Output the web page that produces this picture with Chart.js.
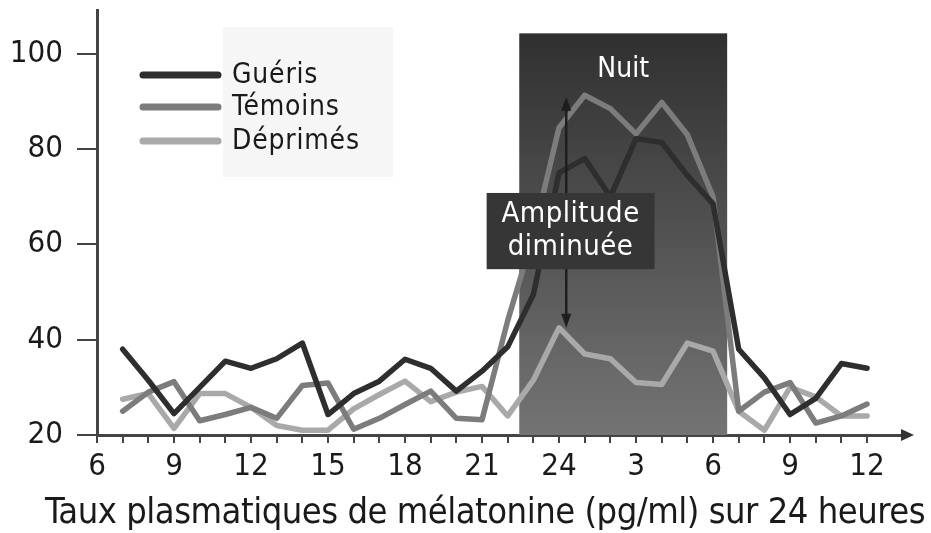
<!DOCTYPE html>
<html><head><meta charset="utf-8">
<script src="https://cdn.jsdelivr.net/npm/chart.js@4/dist/chart.umd.min.js"></script>
<style>html,body{margin:0;padding:0;background:#fff;}canvas{display:block;}</style>
</head><body>
<canvas id="c" width="931" height="533"></canvas>
<script>
// ---- data (hours of the day, 7h -> 12h the next day) ----
const hours    = [7,8,9,10,11,12,13,14,15,16,17,18,19,20,21,22,23,24,25,26,27,28,29,30,31,32,33,34,35,36];
const gueris   = [38,31.5,24.5,30,35.5,34,36,39.3,24.3,28.7,31.3,35.9,34,29.2,33.4,38.5,49.5,75,78,70,82.2,81.4,74.5,68.5,38,32,24.3,27.7,35,34];
const temoins  = [25,29,31.2,23,24.3,25.8,23.5,30.4,30.9,21.2,23.5,26.4,29.2,23.5,23.2,44,62,84.5,91.3,88.5,83.2,89.8,83,70,25,29,31,22.5,24,26.5];
const deprimes = [27.5,28.7,21.4,28.7,28.7,25.8,22,21,21,25.5,28.5,31.3,27,29,30.2,24,31.5,42.5,37,36,31,30.6,39.3,37.6,25,21,30,28,24,24];
const seriesNames = ['Guéris','Témoins','Déprimés'];
const xTickHours = [6,7,8,9,10,11,12,13,14,15,16,17,18,19,20,21,22,23,24,25,26,27,28,29,30,31,32,33,34,35,36];
const labeledHours = [6,9,12,15,18,21,24,27,30,33,36];
const xTickLabels  = ['6','9','12','15','18','21','24','3','6','9','12'];
const yTicks = [20,40,60,80,100];
const nightBand = [22.45, 30.55, 104.3];          // start hour, end hour, top value
const nightLabel = 'Nuit';
const boxLines = ['Amplitude','diminuée'];
const arrowSpan = [24.28, 91, 42.5];              // hour, top value, bottom value
const xTitle = 'Taux plasmatiques de mélatonine (pg/ml) sur 24 heures';

const FONT = "'DejaVu Sans Condensed','DejaVu Sans',sans-serif";
const colors = ['#2e2e2e','#7c7c7c','#a9a9a9'];
const seriesData = [gueris, temoins, deprimes];

const bgPlugin = {
  id:'bg',
  beforeDatasetsDraw(chart){
    const {ctx, scales:{x,y}} = chart;
    const x0 = x.getPixelForValue(nightBand[0]), x1 = x.getPixelForValue(nightBand[1]);
    const yt = y.getPixelForValue(nightBand[2]), yb = y.getPixelForValue(20);
    const g = ctx.createLinearGradient(0, yt, 0, yb);
    g.addColorStop(0, '#303030'); g.addColorStop(1, '#747474');
    ctx.save(); ctx.fillStyle = g; ctx.fillRect(x0, yt, x1 - x0, yb - yt); ctx.restore();
  },
  afterDatasetsDraw(chart){
    const {ctx, scales:{x,y}} = chart;
    ctx.save();
    // Nuit label
    ctx.fillStyle = '#fff';
    ctx.font = '28px ' + FONT;
    ctx.textAlign = 'center'; ctx.textBaseline = 'middle';
    ctx.fillText(nightLabel, x.getPixelForValue((nightBand[0]+nightBand[1])/2), y.getPixelForValue(96.6));
    // arrow
    const ax = x.getPixelForValue(arrowSpan[0]);
    const ay0 = y.getPixelForValue(arrowSpan[1]), ay1 = y.getPixelForValue(arrowSpan[2]);
    ctx.strokeStyle = '#1e1e1e'; ctx.fillStyle = '#1e1e1e'; ctx.lineWidth = 2.5;
    ctx.beginPath(); ctx.moveTo(ax, ay0 + 8); ctx.lineTo(ax, ay1 - 8); ctx.stroke();
    ctx.beginPath(); ctx.moveTo(ax, ay0); ctx.lineTo(ax - 5, ay0 + 14); ctx.lineTo(ax + 5, ay0 + 14); ctx.closePath(); ctx.fill();
    ctx.beginPath(); ctx.moveTo(ax, ay1); ctx.lineTo(ax - 5, ay1 - 14); ctx.lineTo(ax + 5, ay1 - 14); ctx.closePath(); ctx.fill();
    // box
    const bx0 = x.getPixelForValue(21.18), bx1 = x.getPixelForValue(27.72);
    const by0 = y.getPixelForValue(70.8), by1 = y.getPixelForValue(54.8);
    ctx.fillStyle = '#363636';
    ctx.fillRect(bx0, by0, bx1 - bx0, by1 - by0);
    ctx.fillStyle = '#fff';
    ctx.font = '29px ' + FONT;
    ctx.letterSpacing = '0.5px';
    const cx = (bx0 + bx1) / 2;
    ctx.fillText(boxLines[0], cx, by0 + 22);
    ctx.fillText(boxLines[1], cx, by0 + 55);
    // legend
    const lx0 = 143, lx1 = 218, rows = [75, 107, 141];
    ctx.fillStyle = '#f6f6f6';
    ctx.fillRect(223, 27, 170, 150);
    ctx.letterSpacing = '0.8px';
    chart.data.datasets.forEach((ds, i) => {
      ctx.strokeStyle = ds.borderColor; ctx.lineWidth = 7; ctx.lineCap = 'round';
      ctx.beginPath(); ctx.moveTo(lx0, rows[i]); ctx.lineTo(lx1, rows[i]); ctx.stroke();
      ctx.fillStyle = '#1a1a1a'; ctx.font = '28px ' + FONT;
      ctx.textAlign = 'left'; ctx.textBaseline = 'middle';
      ctx.fillText(ds.label, 232, rows[i] + 1);
    });
    ctx.restore();
  },
  afterDraw(chart){
    const {ctx, chartArea:a} = chart;
    ctx.save();
    ctx.fillStyle = '#333';
    ctx.beginPath(); ctx.moveTo(a.right - 2, a.bottom - 6); ctx.lineTo(a.right + 11, a.bottom); ctx.lineTo(a.right - 2, a.bottom + 6); ctx.closePath(); ctx.fill();
    // axis title, fitted to span x = 45 .. 925
    ctx.letterSpacing = '0px';
    ctx.fillStyle = '#1a1a1a';
    ctx.font = '36px ' + FONT;
    const w = ctx.measureText(xTitle).width;
    const sp = Math.max(-2, Math.min(4, (880 - w) / xTitle.length));
    ctx.letterSpacing = sp.toFixed(2) + 'px';
    ctx.textAlign = 'left'; ctx.textBaseline = 'middle';
    ctx.fillText(xTitle, 45, 514);
    ctx.restore();
  }
};

new Chart(document.getElementById('c'), {
  type:'line',
  data:{
    datasets: seriesData.map((d, i) => ({
      label: seriesNames[i],
      data: hours.map((h, j) => ({x:h, y:d[j]})),
      borderColor: colors[i],
      borderWidth: 5.5,
      pointRadius: 0,
      tension: 0,
      borderJoinStyle: 'round',
      borderCapStyle: 'round',
      fill: false
    }))
  },
  options:{
    responsive:false,
    animation:false,
    devicePixelRatio:1,
    layout:{padding:{top:10,right:28,left:0,bottom:0}},
    plugins:{legend:{display:false}, tooltip:{enabled:false}},
    scales:{
      x:{
        type:'linear', min:6, max:37.4,
        afterFit(s){ s.height = 98; s.paddingLeft = 0; s.paddingRight = 0; },
        afterBuildTicks(s){ s.ticks = xTickHours.map(v => ({value:v})); },
        ticks:{
          autoSkip:false, maxRotation:0, padding:5, color:'#1a1a1a',
          font:{family:FONT, size:31},
          callback(v){ const i = labeledHours.indexOf(v); return i >= 0 ? xTickLabels[i] : ''; }
        },
        grid:{drawOnChartArea:false, drawTicks:true, tickLength:8, color:'#444', lineWidth:2},
        border:{display:true, color:'#444', width:3},
        title:{display:false}
      },
      y:{
        type:'linear', min:20, max:109.2,
        afterFit(s){ s.width = 97; s.paddingTop = 0; s.paddingBottom = 0; },
        afterBuildTicks(s){ s.ticks = yTicks.map(v => ({value:v})); },
        ticks:{padding:14, color:'#1a1a1a', font:{family:FONT, size:31}},
        grid:{drawOnChartArea:false, drawTicks:true, tickLength:20, color:'#444', lineWidth:2},
        border:{display:true, color:'#444', width:3}
      }
    }
  },
  plugins:[bgPlugin]
});
</script>
</body></html>
